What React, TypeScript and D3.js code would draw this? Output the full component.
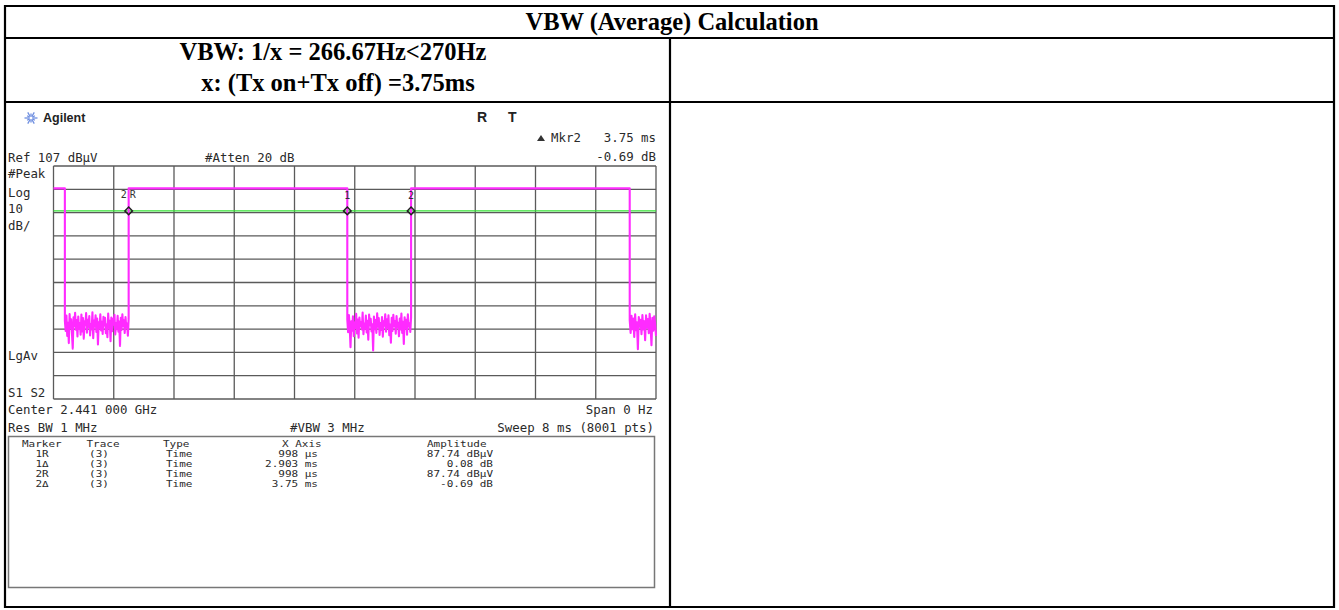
import React from "react";
import * as d3 from "d3";

// ---- Sweep settings (time axis in ms, amplitude in dBµV) ----
const sweepMs = 8;
const refLevel = 107;
const dbPerDiv = 10;
const divisions = 10;

// Burst edges (ms): on -> off, off -> on
const burstEdges = [0.151, 0.998, 3.901, 4.748, 7.651];
const onLevel = 97.4;
const displayLine = 87.74;

// Noise floor readings between bursts (dBµV)
const gap1Noise = [40.5, 36.2, 42.8, 34.1, 39.7, 31.0, 43.5, 37.4, 41.2, 35.0, 28.6, 42.1, 38.3, 44.0, 36.7, 40.9, 33.8, 42.4, 37.1, 39.5, 34.6, 43.2, 36.0, 41.7, 32.9, 40.3, 38.8, 43.9, 35.5, 41.0, 37.9, 42.6, 34.3, 39.2, 36.8, 44.2, 33.1, 40.7, 38.1, 42.9, 35.8, 41.5, 30.4, 39.9, 37.3, 43.4, 36.4, 40.1, 34.9, 42.3, 38.6, 41.8, 35.2, 39.0, 33.5, 43.7, 37.6, 40.6, 31.8, 42.0, 36.1, 41.4, 38.9, 43.1, 34.7, 39.6, 37.0, 42.7, 35.9, 40.2, 29.8, 41.9, 36.6, 43.3, 38.4, 40.8, 35.3, 42.2, 37.7, 39.4, 34.2, 41.6];
const gap2Noise = [41.3, 35.7, 43.0, 37.8, 29.2, 40.4, 36.3, 42.5, 34.0, 39.8, 37.5, 43.6, 35.1, 41.1, 33.3, 42.0, 38.2, 40.0, 36.9, 44.1, 34.8, 39.3, 37.2, 42.8, 35.6, 40.6, 32.4, 43.2, 38.7, 41.4, 36.0, 39.1, 27.8, 42.4, 37.0, 40.9, 35.4, 43.8, 38.0, 41.7, 34.5, 39.6, 36.6, 42.2, 33.7, 40.3, 38.5, 43.4, 35.9, 41.2, 37.4, 42.9, 34.4, 39.0, 31.2, 41.8, 36.2, 43.1, 38.3, 40.5, 35.0, 42.6, 37.9, 39.7, 33.9, 41.5, 36.8, 43.7, 35.3, 40.1, 30.6, 42.1, 37.3, 41.0, 34.6, 43.3, 38.1, 39.5, 35.8, 42.0];
const gap3Noise = [40.8, 35.4, 42.7, 37.0, 41.5, 33.6, 43.4, 36.5, 39.9, 28.4, 42.2, 38.0, 41.0, 34.8, 43.0, 36.9, 40.4, 32.2, 42.9, 37.7, 41.3, 35.2, 43.6, 38.4, 30.1, 41.8, 36.3, 42.5, 39.2, 34.1];

// Marker readouts
const markerNames = ["1R", "1\u0394", "2R", "2\u0394"];
const markerTraces = ["(3)", "(3)", "(3)", "(3)"];
const markerTypes = ["Time", "Time", "Time", "Time"];
const markerXAxis = ["998 \u00b5s", "2.903 ms", "998 \u00b5s", "3.75 ms"];
const markerAmplitude = ["87.74 dB\u00b5V", "0.08 dB", "87.74 dB\u00b5V", "-0.69 dB"];
// Marker positions on screen (ms) and their labels
const markerRefMs = 0.998;
const markerDeltaMs = [2.903, 3.75];
const markerLabels = ["1", "2"];

const mono = "'DejaVu Sans Mono', monospace";
const serif = "'Liberation Serif', 'Times New Roman', serif";
const sans = "'Liberation Sans', Arial, sans-serif";

function buildTrace(): [number, number][] {
  const pts: [number, number][] = [];
  const addGap = (t0: number, t1: number, noise: number[]) => {
    const step = (t1 - t0) / (noise.length - 1);
    noise.forEach((v, i) => pts.push([t0 + i * step, v]));
  };
  pts.push([0, onLevel], [burstEdges[0], onLevel]);
  addGap(burstEdges[0], burstEdges[1], gap1Noise);
  pts.push([burstEdges[1], onLevel], [burstEdges[2], onLevel]);
  addGap(burstEdges[2], burstEdges[3], gap2Noise);
  pts.push([burstEdges[3], onLevel], [burstEdges[4], onLevel]);
  addGap(burstEdges[4], sweepMs, gap3Noise);
  return pts;
}

// Screen-font text, stretched horizontally like the instrument's font
function Tbl(props: { x: number; y: number; anchor?: "start" | "middle" | "end"; children: React.ReactNode }) {
  return (
    <text
      transform={`translate(${props.x},${props.y}) scale(1.28,1)`}
      textAnchor={props.anchor || "start"}
      fontFamily={mono}
      fontSize={8.6}
      fill="#2a2a2a"
    >
      {props.children}
    </text>
  );
}

export default function App() {
  const W = 1339;
  const H = 610;

  // Screen graticule
  const gx0 = 53.5, gx1 = 656, gy0 = 166, gy1 = 399;
  const x = d3.scaleLinear().domain([0, sweepMs]).range([gx0, gx1]);
  const y = d3
    .scaleLinear()
    .domain([refLevel, refLevel - dbPerDiv * divisions])
    .range([gy0, gy1]);
  const xDivs = d3.range(divisions + 1).map((i) => (i * sweepMs) / divisions);
  const yDivs = d3.range(divisions + 1).map((i) => refLevel - i * dbPerDiv);

  const line = d3
    .line<[number, number]>()
    .x((d) => x(d[0]))
    .y((d) => y(d[1]));
  const tracePath = line(buildTrace()) || "";

  const markerTimes = [markerRefMs, ...markerDeltaMs.map((d) => markerRefMs + d)];
  const diamond = (cx: number, cy: number, r: number) =>
    `M${cx},${cy - r}L${cx + r},${cy}L${cx},${cy + r}L${cx - r},${cy}Z`;

  const star = d3.range(12).map((i) => (i * Math.PI) / 6);

  const txt = { fontFamily: mono, fontSize: 12.4, fill: "#2a2a2a" } as const;
  const rowY = [456.5, 466.8, 477.1, 487.4];

  return (
    <svg width={W} height={H} style={{ display: "block", position: "absolute", left: 0, top: 0 }}>
      <rect x={0} y={0} width={W} height={H} fill="#fff" />

      {/* table frame */}
      <g stroke="#000" strokeWidth={2.2} fill="none">
        <line x1={5} y1={6} x2={1334} y2={6} />
        <line x1={5} y1={38} x2={1334} y2={38} />
        <line x1={5} y1={102} x2={1334} y2={102} />
        <line x1={5} y1={607} x2={1334} y2={607} />
        <line x1={5} y1={5} x2={5} y2={608} />
        <line x1={1334} y1={5} x2={1334} y2={608} />
        <line x1={670} y1={38} x2={670} y2={608} />
      </g>
      <text x={672} y={30} textAnchor="middle" fontFamily={serif} fontWeight="bold" fontSize={24.5}>
        VBW (Average) Calculation
      </text>
      <text x={333} y={60} textAnchor="middle" fontFamily={serif} fontWeight="bold" fontSize={24.5}>
        VBW: 1/x = 266.67Hz&lt;270Hz
      </text>
      <text x={338} y={91} textAnchor="middle" fontFamily={serif} fontWeight="bold" fontSize={24.5}>
        x: (Tx on+Tx off) =3.75ms
      </text>

      {/* analyzer screen */}
      <g>
        {star.map((a, i) => (
          <line
            key={i}
            x1={31 + Math.cos(a) * 1.5}
            y1={118 + Math.sin(a) * 1.5}
            x2={31 + Math.cos(a) * (i % 2 ? 4.5 : 6.5)}
            y2={118 + Math.sin(a) * (i % 2 ? 4.5 : 6.5)}
            stroke="#6f8fe0"
            strokeWidth={1.3}
          />
        ))}
        <text x={43} y={122} fontFamily={sans} fontWeight="bold" fontSize={12.5} fill="#222">
          Agilent
        </text>
        <text x={477} y={122} fontFamily={sans} fontWeight="bold" fontSize={14} fill="#222">
          R
        </text>
        <text x={508} y={122} fontFamily={sans} fontWeight="bold" fontSize={14} fill="#222">
          T
        </text>
        <path d="M537,141L541,135L545,141Z" fill="#333" />
        <text x={551} y={142} {...txt}>Mkr2</text>
        <text x={656} y={142} textAnchor="end" {...txt}>3.75 ms</text>
        <text x={656} y={161} textAnchor="end" {...txt}>-0.69 dB</text>
        <text x={8} y={162} {...txt}>{"Ref 107 dB\u00b5V"}</text>
        <text x={205} y={162} {...txt}>#Atten 20 dB</text>
        <text x={8} y={178} {...txt}>#Peak</text>
        <text x={8} y={197} {...txt}>Log</text>
        <text x={8} y={213} {...txt}>10</text>
        <text x={8} y={230} {...txt}>dB/</text>
        <text x={8} y={360} {...txt}>LgAv</text>
        <text x={8} y={397} {...txt}>S1 S2</text>
        <text x={8} y={414} {...txt}>Center 2.441 000 GHz</text>
        <text x={653} y={414} textAnchor="end" {...txt}>Span 0 Hz</text>
        <text x={8} y={432} {...txt}>Res BW 1 MHz</text>
        <text x={290} y={432} {...txt}>#VBW 3 MHz</text>
        <text x={654} y={432} textAnchor="end" {...txt}>Sweep 8 ms (8001 pts)</text>

        {/* graticule */}
        <g stroke="#5a5a5a" strokeWidth={1.3}>
          {xDivs.map((t, i) => (
            <line key={"v" + i} x1={x(t)} x2={x(t)} y1={gy0} y2={gy1} />
          ))}
          {yDivs.map((v, i) => (
            <line key={"h" + i} x1={gx0} x2={gx1} y1={y(v)} y2={y(v)} />
          ))}
        </g>

        {/* display line */}
        <line x1={gx0} x2={gx1} y1={y(displayLine)} y2={y(displayLine)} stroke="#33e033" strokeWidth={1.4} />

        {/* trace */}
        <path d={tracePath} fill="none" stroke="#ff2bff" strokeWidth={2.1} strokeLinejoin="round" />

        {/* markers */}
        {markerTimes.map((t, i) => (
          <path key={"m" + i} d={diamond(x(t), y(displayLine), 3.8)} fill="none" stroke="#222" strokeWidth={1.5} />
        ))}
        <text x={x(markerRefMs) - 8} y={198} fontFamily={mono} fontSize={10} fill="#333">2</text>
        <text x={x(markerRefMs) + 1} y={198} fontFamily={mono} fontSize={10} fill="#333">R</text>
        {markerDeltaMs.map((d, i) => (
          <text key={"ml" + i} x={x(markerRefMs + d)} y={199} textAnchor="middle" fontFamily={mono} fontSize={10} fill="#333">
            {markerLabels[i]}
          </text>
        ))}

        {/* marker table */}
        <rect x={8.5} y={436.5} width={646} height={151} fill="#fff" stroke="#777" strokeWidth={1.5} />
        <Tbl x={22} y={446.5}>Marker</Tbl>
        <Tbl x={103} y={446.5} anchor="middle">Trace</Tbl>
        <Tbl x={163} y={446.5}>Type</Tbl>
        <Tbl x={282} y={446.5}>X Axis</Tbl>
        <Tbl x={427} y={446.5}>Amplitude</Tbl>
        {markerNames.map((m, i) => (
          <g key={"r" + i}>
            <Tbl x={42} y={rowY[i]} anchor="middle">{m}</Tbl>
            <Tbl x={99} y={rowY[i]} anchor="middle">{markerTraces[i]}</Tbl>
            <Tbl x={166} y={rowY[i]}>{markerTypes[i]}</Tbl>
            <Tbl x={318} y={rowY[i]} anchor="end">{markerXAxis[i]}</Tbl>
            <Tbl x={493} y={rowY[i]} anchor="end">{markerAmplitude[i]}</Tbl>
          </g>
        ))}
      </g>
    </svg>
  );
}
